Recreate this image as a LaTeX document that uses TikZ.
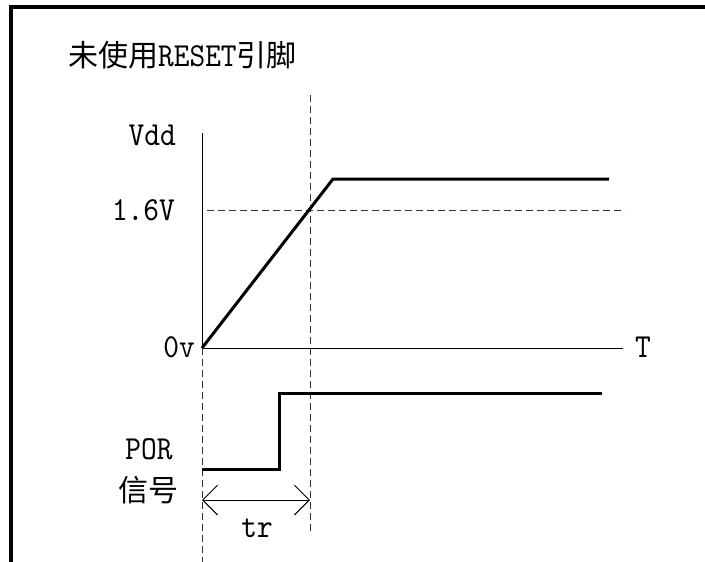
\documentclass[tikz,border=0pt]{standalone}
\usepackage{fontspec}
\newfontfamily\cjk{Noto Sans CJK SC}
\newfontfamily\lat{lmmono10-regular}[Extension=.otf, Scale=1.12, FakeStretch=0.89]
\usepackage{tikz}
\usetikzlibrary{arrows.meta,positioning}

\begin{document}
\begin{tikzpicture}[
  x=1pt, y=-1pt,
  frame/.style={line width=3.5pt, black, line join=miter},
  axis/.style={line width=0.9pt, black},
  guide/.style={line width=0.9pt, black!80, dash pattern=on 7pt off 4pt},
  signal/.style={line width=3pt, black, line join=miter},
  span/.style={{Straight Barb[length=15pt,width=30pt]}-{Straight Barb[length=15pt,width=30pt]},
               line width=0.9pt},
  lbl/.style={font=\lat\fontsize{30}{36}\selectfont, inner sep=0pt}]
\useasboundingbox (0,0) rectangle (705,562);

% ---- the frame, open at the right and at the bottom --------------------
\coordinate (fBL) at (11,562);
\coordinate (fTL) at (11,7);
\coordinate (fTR) at (705,7);
\draw[frame] (fBL)--(fTL)--(fTR);

% ---- axes and the guides through the 1.6V crossing ----------------------
\coordinate (O)    at (202,348);   % 0v on the time axis
\coordinate (ytop) at (202,133);
\coordinate (xend) at (623,348);
\coordinate (ybot) at (202,562);
\coordinate (gL)   at (207,210);   % 1.6V level
\coordinate (gR)   at (625,210);
\coordinate (cTop) at (310,95);    % time where Vdd reaches 1.6V
\coordinate (cBot) at (310,532);
\draw[axis] (ytop)--(O)--(xend);
\draw[guide] (O)--(ybot) (gL)--(gR) (cTop)--(cBot);

% ---- Vdd ramp, then POR signal -----------------------------------------
\coordinate (rTop) at (333,179);
\coordinate (rEnd) at (609,179);
\draw[signal] (O)--(rTop)--(rEnd);
\coordinate (pL)  at (202,469);
\coordinate (pLo) at (279,469);
\coordinate (pHi) at (279,393);
\coordinate (pR)  at (602,393);
\draw[signal] (pL)--(pLo)--(pHi)--(pR);

% ---- delay t_r between the two dashed guides ----------------------------
\coordinate (aL) at (202,500);
\coordinate (aR) at (310,500);
\draw[span] (aL)--(aR);

% ---- labels -------------------------------------------------------------
\node[lbl, anchor=west] (title) at (68,55) {{\cjk 未使用}RESET{\cjk 引脚}};
\node[lbl, anchor=east] (vdd)   at (176,135) {Vdd};
\node[lbl, anchor=east] (lvl)   at (175,210) {1.6V};
\node[lbl, anchor=east] (zero)  at (195,347) {0v};
\node[lbl] (tlab) at (643,347) {T};
\node[lbl] (por)   at (149,449) {POR};
\node[lbl] (porcn) at (148,490) {\cjk 信号};
\node[lbl, anchor=base] (tr) at (257,537) {tr};
\end{tikzpicture}
\end{document}
